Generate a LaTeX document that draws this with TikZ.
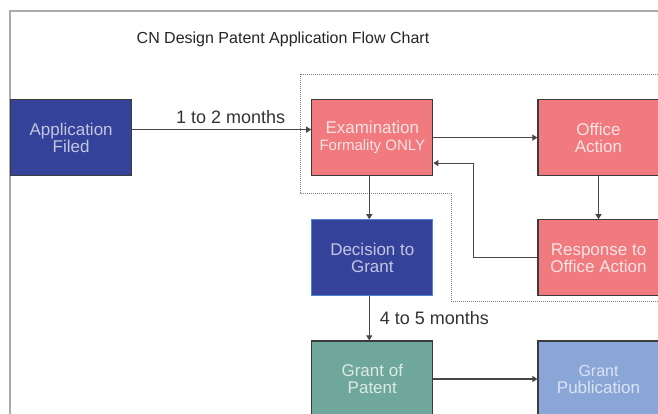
\documentclass[tikz,border=0pt]{standalone}
\usepackage{fontspec}
\setmainfont{Liberation Sans}
\usetikzlibrary{arrows.meta,positioning}
\definecolor{darkblue}{RGB}{52,66,154}
\definecolor{salmon}{RGB}{240,122,126}
\definecolor{teal}{RGB}{111,168,154}
\definecolor{lightblue}{RGB}{138,166,214}
\definecolor{boxline}{RGB}{60,60,60}
\definecolor{arrowgray}{RGB}{70,70,70}
\definecolor{framegray}{RGB}{170,170,170}
\tikzset{
    %Define standard arrow tip
    >={Triangle[length=5pt,width=6pt]},
    %Define style for boxes
    stage/.style={
           rectangle,
           draw=boxline, line width=1.2pt,
           minimum width=121pt,
           minimum height=76pt,
           inner sep=0pt,
           align=center,
           font=\fontsize{17}{17}\selectfont},
    bluestage/.style={stage, fill=darkblue, text=darkblue!30!white},
    redstage/.style={stage, fill=salmon, text=salmon!20!white},
    decstage/.style={bluestage, draw={rgb,255:red,80;green,130;blue,215}},
    tealstage/.style={stage, fill=teal, text=teal!25!white},
    lightstage/.style={stage, fill=lightblue, text=lightblue!30!white},
    % Define arrow style
    pil/.style={
           ->,
           line width=1.1pt,
           draw=arrowgray},
    months/.style={
           inner sep=0pt,
           text=black!80,
           font=\fontsize{18}{20}\selectfont},
    region/.style={
           draw=gray, line width=0.9pt,
           dash pattern=on 1pt off 1pt}
}
\begin{document}
\begin{tikzpicture}[x=1pt, y=-1pt]
 \clip (0,0) rectangle (658,413);
 \fill[white] (0,0) rectangle (658,413);
 \draw[framegray, line width=2pt] (9.5,430) -- (9.5,11) -- (680,11);

 \node[font=\fontsize{16}{19}\selectfont, text=black!85] (title) at (283,39)
 	{CN Design Patent Application Flow Chart};

 % dotted examination region
 \draw[region] (680,74) -- (300,74) -- (300,193) -- (451,193) -- (451,301) -- (680,301);

 \node[bluestage, anchor=north west] (filed) at (10,99) {Application\\Filed};

 \node[redstage, right=179pt of filed] (exam) {
 	Examination\\{\fontsize{15}{17}\selectfont Formality ONLY}
 };

 \node[redstage, right=104pt of exam] (office) {Office\\Action};

 \node[redstage, below=43pt of office] (resp) {Response to\\Office Action};

 \node[decstage, below=43pt of exam] (dec) {Decision to\\Grant};

 \node[tealstage, below=44pt of dec] (grant) {Grant of\\Patent};

 \node[lightstage, right=104pt of grant] (pub) {
 	\fontsize{16}{16}\selectfont Grant\\Publication
 };

 \draw[pil] ([yshift=8pt]filed.east) -- node[months, above=5pt, pos=0.55] {1 to 2 months}
 	([yshift=8pt]exam.west);
 \draw[pil] (exam) -- (office);
 \draw[pil] (office) -- (resp);
 \draw[pil] (resp.west) -- ++(-64,0) |- ([yshift=-25.5pt]exam.east);
 \draw[pil] ([xshift=-3pt]exam.south) -- ([xshift=-3pt]dec.north);
 \draw[pil] ([xshift=-3pt]dec.south) -- node[months, right=10pt] {4 to 5 months}
 	([xshift=-3pt]grant.north);
 \draw[pil] (grant) -- (pub);
\end{tikzpicture}
\end{document}
